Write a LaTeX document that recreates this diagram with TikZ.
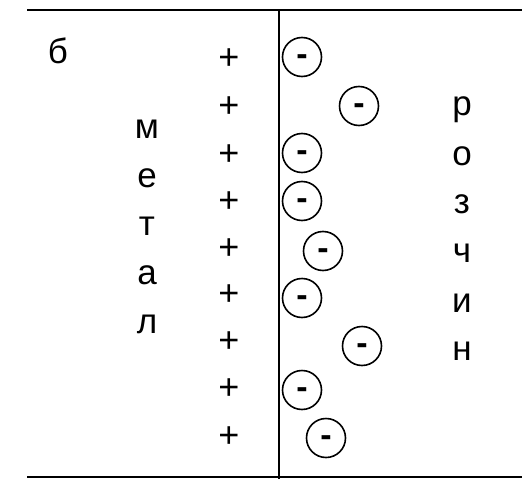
\documentclass[tikz,border=0pt]{standalone}
\usepackage{fontspec}
\setmainfont{Liberation Sans}
\begin{document}
\begin{tikzpicture}[x=1pt,y=-1pt,ln/.style={line width=2pt},let/.style={anchor=base,inner sep=0pt,font=\fontsize{35}{35}\selectfont},pl/.style={inner sep=0pt,text height=25.2pt,text depth=0pt,font=\fontsize{36}{36}\selectfont},ion/.style={draw,circle,line width=1.6pt,minimum size=39pt,inner sep=0pt,text height=17.4pt,text depth=0pt,font=\fontsize{34}{34}\selectfont\bfseries}]
\useasboundingbox (0,0) rectangle (522,479);
\coordinate (tl) at (27,10);\coordinate (tr) at (522,10);\coordinate (bl) at (27,477);\coordinate (br) at (522,477);
\coordinate (wt) at (279,10);\coordinate (wb) at (279,479);
\draw[ln](tl)--(tr);\draw[ln](bl)--(br);\draw[ln](wt)--(wb);
\node[let](lbl) at (58,63){б};
\foreach \y [count=\i] in {57,105,153,200,247,293,340,387,435}{\node[pl](p\i) at (229,\y){+};}
\foreach \x/\y [count=\i] in {302/57,359/106,302/153,302/201,323/251,302/298,362/346,302/390,326/438}{\node[ion](e\i) at (\x,\y){-};}
\foreach \c/\y [count=\i] in {м/138,е/187,т/235,а/284,л/333}{\node[let](m\i) at (147,\y){\c};}
\foreach \c/\y [count=\i] in {р/115,о/165,з/213,ч/262,и/312,н/360}{\node[let](s\i) at (462,\y){\c};}
\end{tikzpicture}
\end{document}
